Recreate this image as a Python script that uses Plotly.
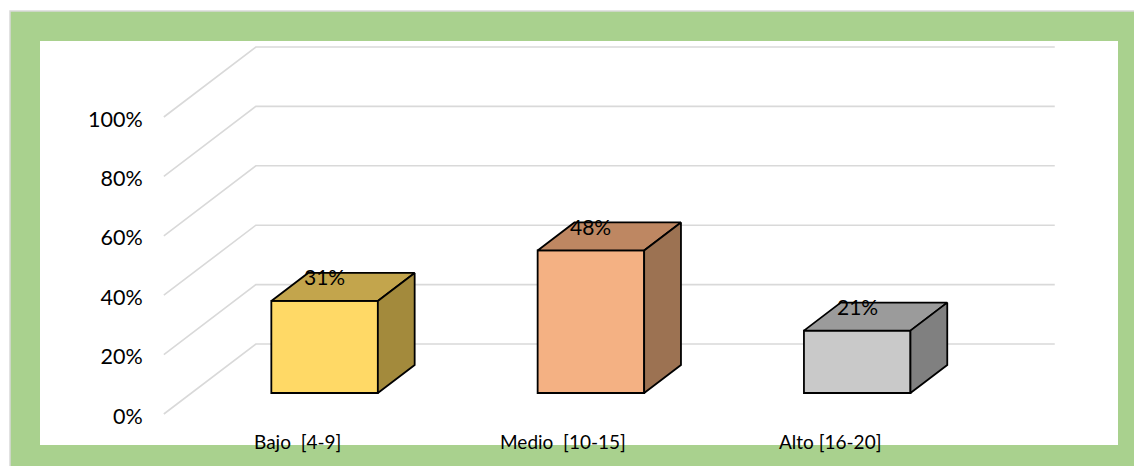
import plotly.graph_objects as go

# ---- data ----
categories = ["Bajo  [4-9]", "Medio  [10-15]", "Alto [16-20]"]
values = [31, 48, 21]
value_labels = ["31%", "48%", "21%"]
tick_values = [0, 20, 40, 60, 80, 100]
tick_labels = ["0%", "20%", "40%", "60%", "80%", "100%"]

# ---- styles ----
front_colors = ["#FFD966", "#F4B183", "#C9C9C9"]
top_colors = ["#C3A54C", "#BE8762", "#9B9B9B"]
side_colors = ["#A38A3C", "#9C7252", "#808080"]
FONT = "Lato"
W, H = 1134, 466
ML = 160

# oblique projection parameters (in axis units)
DX = 0.3455      # full depth offset along x (category units)
DY = 23.57       # full depth offset along y (percent units)
F0, F1 = 0.30, 0.70   # bar depth span (fraction of full depth)
BW = 0.40        # bar width (category units)

# axis ranges chosen so the chart fills the frame
x_range = [(ML - 297) / 266.3, (W - 297) / 266.3]
y_range = [(414 - H) / 2.97, 414 / 2.97]

def px(x):
    return (x - ML) / (W - ML)

def py(y):
    return (H - y) / H

fig = go.Figure()

shapes = []
# outer frame (decoration)
shapes.append(dict(type="rect", xref="paper", yref="paper", x0=px(10), x1=px(1145), y0=py(11), y1=py(475),
                   line=dict(color="#D9D9D9", width=1.5), fillcolor="#A9D18E", layer="below"))
shapes.append(dict(type="rect", xref="paper", yref="paper", x0=px(40), x1=px(1118), y0=py(41), y1=py(445),
                   line=dict(width=0), fillcolor="#FFFFFF", layer="below"))

# gridlines: left wall diagonal + back wall horizontal
x_front_left = -0.5
x_back_left = -0.5 + DX
x_back_right = len(categories) - 0.5 + DX
for t in tick_values:
    shapes.append(dict(type="path", xref="x", yref="y",
                       path=f"M {x_front_left},{t} L {x_back_left},{t + DY} L {x_back_right},{t + DY}",
                       line=dict(color="#D9D9D9", width=1.6), layer="below"))

# bars
for i, (cat, v) in enumerate(zip(categories, values)):
    xc = i + F0 * DX
    b0 = F0 * DY
    ddx = (F1 - F0) * DX
    ddy = (F1 - F0) * DY
    xl, xr = xc - BW / 2, xc + BW / 2
    # front face
    fig.add_trace(go.Bar(x=[xc], y=[v], base=b0, width=BW,
                         marker=dict(color=front_colors[i], line=dict(color="#000000", width=1.8)),
                         hoverinfo="skip"))
    # top face
    fig.add_trace(go.Scatter(x=[xl, xr, xr + ddx, xl + ddx, xl],
                             y=[v + b0, v + b0, v + b0 + ddy, v + b0 + ddy, v + b0],
                             mode="lines", fill="toself", fillcolor=top_colors[i],
                             line=dict(color="#000000", width=1.8), hoverinfo="skip"))
    # side face
    fig.add_trace(go.Scatter(x=[xr, xr + ddx, xr + ddx, xr, xr],
                             y=[b0, b0 + ddy, v + b0 + ddy, v + b0, b0],
                             mode="lines", fill="toself", fillcolor=side_colors[i],
                             line=dict(color="#000000", width=1.8), hoverinfo="skip"))

annotations = []
for i, (cat, v, lab) in enumerate(zip(categories, values, value_labels)):
    annotations.append(dict(x=i + F0 * DX, y=v + F1 * DY, xref="x", yref="y", text=lab,
                            showarrow=False, yanchor="middle", xanchor="center", yshift=-4,
                            font=dict(family=FONT, size=21, color="#000000")))
    annotations.append(dict(x=i, y=0, xref="x", yref="y", text=cat.replace("  ", "\u00a0 "),
                            showarrow=False, yanchor="middle", xanchor="center", yshift=-27,
                            font=dict(family=FONT, size=19, color="#000000")))

fig.update_layout(
    width=W, height=H,
    margin=dict(l=ML, r=0, t=0, b=0),
    paper_bgcolor="#FFFFFF", plot_bgcolor="rgba(0,0,0,0)",
    showlegend=False, barmode="overlay",
    shapes=shapes, annotations=annotations,
    xaxis=dict(range=x_range, showgrid=False, zeroline=False, showline=False,
               showticklabels=False, ticks="", fixedrange=True),
    yaxis=dict(range=y_range, showgrid=False, zeroline=False, showline=False,
               tickvals=tick_values, ticktext=tick_labels, ticks="outside", ticklen=12,
               ticklabelshift=2,
               tickcolor="rgba(0,0,0,0)", tickfont=dict(family=FONT, size=21.5, color="#000000"),
               fixedrange=True),
)

fig.write_html("out.html")
